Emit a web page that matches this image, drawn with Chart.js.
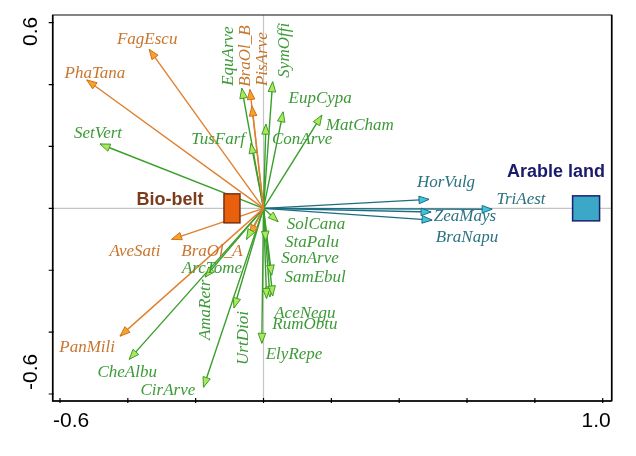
<!DOCTYPE html>
<html><head><meta charset="utf-8">
<script src="https://cdn.jsdelivr.net/npm/chart.js@4.4.1/dist/chart.umd.min.js"></script>
<style>html,body{margin:0;padding:0;background:#fff;}</style>
</head><body>
<canvas id="c" width="636" height="456"></canvas>
<script>
// ---- axis ticks ----
const xTicks = [-0.6, -0.4, -0.2, 0, 0.2, 0.4, 0.6, 0.8, 1.0];
const yTicks = [-0.6, -0.4, -0.2, 0, 0.2, 0.4, 0.6];
const xTickLabelVals = [-0.6, 1.0];
const xTickLabelTexts = ['-0.6', '1.0'];
const yTickLabelVals = [0.6, -0.6];
const yTickLabelTexts = ['0.6', '-0.6'];

// ---- Bio-belt related species (orange) ----
const bioNames = ['FagEscu', 'PhaTana', 'BraOl_B', 'PisArve', 'AveSati', 'BraOl_A', 'PanMili'];
const bioX     = [-0.337, -0.521, -0.040, -0.034, -0.271, -0.040, -0.423];
const bioY     = [ 0.514,  0.415,  0.384,  0.331, -0.100, -0.086, -0.413];
const bioLabX  = [-0.343, -0.497, -0.052, -0.004, -0.379, -0.152, -0.520];
const bioLabY  = [ 0.547,  0.437,  0.492,  0.482, -0.138, -0.138, -0.451];

// ---- other weed species (green) ----
const weedNames = ['SetVert', 'EquArve', 'TusFarf', 'SymOffi', 'ConArve', 'EupCypa', 'MatCham',
  'SolCana', 'StaPalu', 'SonArve', 'SamEbul', 'AceNegu', 'RumObtu', 'ElyRepe', 'UrtDioi',
  'AmaRetr', 'ArcTome', 'CheAlbu', 'CirArve'];
const weedX    = [-0.482, -0.064, -0.037, 0.027, 0.007, 0.058, 0.172,
  0.043, 0.007, 0.024, 0.019, 0.027, 0.009, -0.005, -0.087,
  -0.172, -0.050, -0.396, -0.177];
const weedY    = [0.208, 0.388, 0.210, 0.409, 0.272, 0.312, 0.301,
  -0.043, -0.106, -0.216, -0.286, -0.283, -0.291, -0.436, -0.322,
  -0.222, -0.100, -0.488, -0.578];
const weedLabX = [-0.488, -0.102, -0.134, 0.063, 0.114, 0.167, 0.284,
  0.155, 0.143, 0.137, 0.152, 0.122, 0.122, 0.090, -0.060,
  -0.172, -0.152, -0.402, -0.282];
const weedLabY = [0.243, 0.492, 0.221, 0.511, 0.221, 0.354, 0.267,
  -0.051, -0.109, -0.161, -0.225, -0.341, -0.377, -0.474, -0.419,
  -0.328, -0.196, -0.532, -0.590];

// ---- crop species (teal) ----
const cropNames = ['HorVulg', 'TriAest', 'ZeaMays', 'BraNapu'];
const cropX     = [0.488, 0.674, 0.494, 0.497];
const cropY     = [0.029, -0.003, -0.012, -0.038];
const cropLabX  = [0.538, 0.759, 0.594, 0.600];
const cropLabY  = [0.082, 0.027, -0.025, -0.093];

// ---- vertical labels ----
const verticalLabels = ['EquArve', 'BraOl_B', 'PisArve', 'SymOffi', 'UrtDioi', 'AmaRetr'];

// ---- centroids (land use classes) ----
const centNames = ['Bio-belt', 'Arable land'];
const centX     = [-0.093, 0.951];
const centY     = [0, 0];
const centLabX  = [-0.276, 0.862];
const centLabY  = [0.027, 0.117];

// ---- styles ----
const groups = [
  {names: bioNames, x: bioX, y: bioY, lx: bioLabX, ly: bioLabY,
   line: '#e0802e', headFill: '#f5a22a', headStroke: '#d0701e', text: '#c8762e'},
  {names: weedNames, x: weedX, y: weedY, lx: weedLabX, ly: weedLabY,
   line: '#3a9e2a', headFill: '#aee85a', headStroke: '#3a9e2a', text: '#3d9a38'},
  {names: cropNames, x: cropX, y: cropY, lx: cropLabX, ly: cropLabY,
   line: '#1d6c80', headFill: '#3ec4de', headStroke: '#1d6c80', text: '#2b7282'}
];
const centStyles = [
  {w: 16, h: 29, fill: '#e8600c', stroke: '#7a3010', text: '#7b3c1c'},
  {w: 27, h: 25, fill: '#3aa8c6', stroke: '#1b2070', text: '#1b1b6b'}
];

const datasets = [];
groups.forEach(g => {
  g.names.forEach((n, i) => {
    datasets.push({
      label: n,
      data: [{x: 0, y: 0}, {x: g.x[i], y: g.y[i]}],
      showLine: true,
      borderColor: g.line,
      borderWidth: 1.4,
      pointRadius: 0,
      pointHoverRadius: 0
    });
  });
});

const biplot = {
  id: 'biplot',
  beforeDatasetsDraw(chart) {
    const {ctx, chartArea: a, scales: {x, y}} = chart;
    ctx.save();
    ctx.strokeStyle = '#c4c4c4';
    ctx.lineWidth = 1.2;
    const x0 = x.getPixelForValue(0), y0 = y.getPixelForValue(0);
    ctx.beginPath();
    ctx.moveTo(x0, a.top); ctx.lineTo(x0, a.bottom);
    ctx.moveTo(a.left, y0); ctx.lineTo(a.right, y0);
    ctx.stroke();
    ctx.restore();
  },
  afterDatasetsDraw(chart) {
    const {ctx, chartArea: a, scales: {x, y}} = chart;
    const ox = x.getPixelForValue(0), oy = y.getPixelForValue(0);
    ctx.save();
    // arrowheads
    groups.forEach(g => {
      g.names.forEach((n, i) => {
        const px = x.getPixelForValue(g.x[i]), py = y.getPixelForValue(g.y[i]);
        const ang = Math.atan2(py - oy, px - ox);
        const L = 10, W = 3.8;
        const bx = px - L * Math.cos(ang), by = py - L * Math.sin(ang);
        const nx = -Math.sin(ang) * W, ny = Math.cos(ang) * W;
        ctx.beginPath();
        ctx.moveTo(px, py);
        ctx.lineTo(bx + nx, by + ny);
        ctx.lineTo(bx - nx, by - ny);
        ctx.closePath();
        ctx.fillStyle = g.headFill;
        ctx.fill();
        ctx.strokeStyle = g.headStroke;
        ctx.lineWidth = 1;
        ctx.stroke();
      });
    });
    // centroids
    centNames.forEach((n, i) => {
      const s = centStyles[i];
      const px = x.getPixelForValue(centX[i]), py = y.getPixelForValue(centY[i]);
      ctx.fillStyle = s.fill;
      ctx.fillRect(px - s.w / 2, py - s.h / 2, s.w, s.h);
      ctx.strokeStyle = s.stroke;
      ctx.lineWidth = 1.5;
      ctx.strokeRect(px - s.w / 2, py - s.h / 2, s.w, s.h);
      ctx.fillStyle = s.text;
      ctx.font = 'bold 18px "Liberation Sans", Arial, sans-serif';
      ctx.textAlign = 'center';
      ctx.textBaseline = 'middle';
      ctx.fillText(n, x.getPixelForValue(centLabX[i]), y.getPixelForValue(centLabY[i]));
    });
    // species labels
    ctx.font = 'italic 17px "Liberation Serif", "Times New Roman", serif';
    ctx.textAlign = 'center';
    ctx.textBaseline = 'middle';
    groups.forEach(g => {
      ctx.fillStyle = g.text;
      g.names.forEach((n, i) => {
        const lx = x.getPixelForValue(g.lx[i]), ly = y.getPixelForValue(g.ly[i]);
        if (verticalLabels.includes(n)) {
          ctx.save();
          ctx.translate(lx, ly);
          ctx.rotate(-Math.PI / 2);
          ctx.fillText(n, 0, 0);
          ctx.restore();
        } else {
          ctx.fillText(n, lx, ly);
        }
      });
    });
    // frame
    ctx.strokeStyle = '#333';
    ctx.lineWidth = 1.2;
    ctx.strokeRect(a.left, a.top, a.right - a.left, a.bottom - a.top);
    ctx.strokeStyle = '#000';
    ctx.lineWidth = 1.6;
    ctx.beginPath();
    ctx.moveTo(a.left, a.top); ctx.lineTo(a.left, a.bottom); ctx.lineTo(a.right, a.bottom);
    ctx.moveTo(a.right, a.top); ctx.lineTo(a.right, a.bottom);
    ctx.stroke();
    // ticks
    ctx.lineWidth = 1.2;
    ctx.beginPath();
    xTicks.forEach(v => {
      const px = x.getPixelForValue(v);
      ctx.moveTo(px, a.bottom - 3); ctx.lineTo(px, a.bottom + 2);
    });
    yTicks.forEach(v => {
      const py = y.getPixelForValue(v);
      ctx.moveTo(a.left - 4, py); ctx.lineTo(a.left + 1, py);
    });
    ctx.stroke();
    // tick labels
    ctx.fillStyle = '#000';
    ctx.font = '21px "Liberation Sans", Arial, sans-serif';
    ctx.textBaseline = 'middle';
    xTickLabelVals.forEach((v, i) => {
      const px = x.getPixelForValue(v);
      ctx.textAlign = i === 0 ? 'left' : 'right';
      ctx.fillText(xTickLabelTexts[i], i === 0 ? px - 7 : px + 8, a.bottom + 20);
    });
    yTickLabelVals.forEach((v, i) => {
      const py = y.getPixelForValue(v);
      ctx.save();
      ctx.translate(31, i === 0 ? py - 6 : py - 4);
      ctx.rotate(-Math.PI / 2);
      ctx.textAlign = i === 0 ? 'right' : 'left';
      ctx.fillText(yTickLabelTexts[i], 0, 0);
      ctx.restore();
    });
    ctx.restore();
  }
};

new Chart(document.getElementById('c'), {
  type: 'scatter',
  data: {datasets},
  options: {
    responsive: false,
    animation: false,
    layout: {padding: {left: 52.7, right: 24.3, top: 15, bottom: 55}},
    plugins: {legend: {display: false}, tooltip: {enabled: false}},
    scales: {
      x: {type: 'linear', display: false, min: -0.6215, max: 1.0265},
      y: {type: 'linear', display: false, min: -0.6226, max: 0.6249}
    }
  },
  plugins: [biplot]
});
</script>
</body></html>
